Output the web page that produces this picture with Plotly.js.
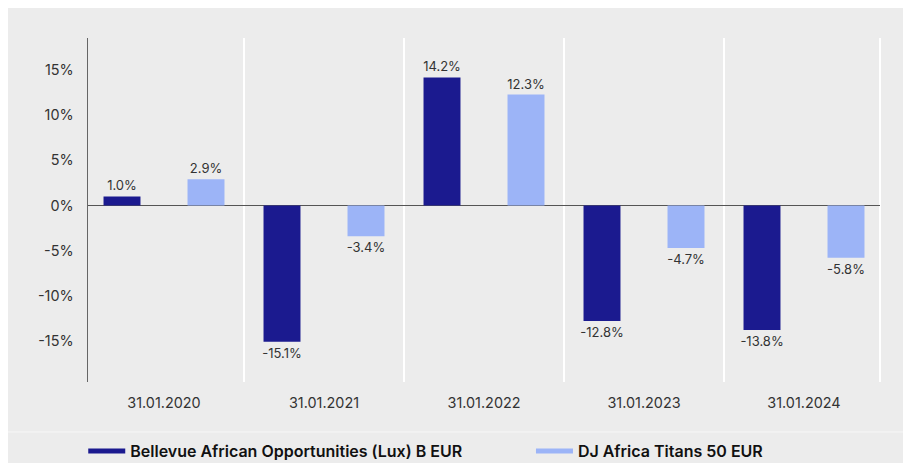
<!DOCTYPE html>
<html>
<head>
<meta charset="utf-8">
<script src="https://cdn.plot.ly/plotly-3.0.1.min.js"></script>
<style>html,body{margin:0;padding:0;background:#fff;}#chart{width:903px;height:463px;}</style>
</head>
<body>
<div id="chart"></div>
<script>
const categories = ['31.01.2020', '31.01.2021', '31.01.2022', '31.01.2023', '31.01.2024'];
const fundName = 'Bellevue African Opportunities (Lux) B EUR';
const benchName = 'DJ Africa Titans 50 EUR';
const fundValues = [1.0, -15.1, 14.2, -12.8, -13.8];
const benchValues = [2.9, -3.4, 12.3, -4.7, -5.8];
const yTickVals = [-15, -10, -5, 0, 5, 10, 15];
const yTickText = ['-15%', '-10%', '-5%', '0%', '5%', '10%', '15%'];

const darkBlue = '#1b1a8f';
const lightBlue = '#9cb4f7';
const fontFam = 'Inter, "Noto Sans", sans-serif';

const fmt = v => v.toFixed(1) + '%';

const traces = [
  {
    type: 'bar', x: categories, y: fundValues, name: fundName,
    marker: {color: darkBlue}, width: 0.231, offset: -0.378,
    text: fundValues.map(fmt), textposition: 'outside', constraintext: 'none',
    textfont: {family: fontFam, size: 13, color: '#333'},
    cliponaxis: false, showlegend: false, hoverinfo: 'skip'
  },
  {
    type: 'bar', x: categories, y: benchValues, name: benchName,
    marker: {color: lightBlue}, width: 0.231, offset: 0.147,
    text: benchValues.map(fmt), textposition: 'outside', constraintext: 'none',
    textfont: {family: fontFam, size: 13, color: '#333'},
    cliponaxis: false, showlegend: false, hoverinfo: 'skip'
  },
  {
    type: 'scatter', mode: 'lines', x: [categories[0]], y: [null], name: fundName,
    line: {color: darkBlue, width: 5}, showlegend: true, legend: 'legend', hoverinfo: 'skip'
  },
  {
    type: 'scatter', mode: 'lines', x: [categories[0]], y: [null], name: benchName,
    line: {color: lightBlue, width: 5}, showlegend: true, legend: 'legend2', hoverinfo: 'skip'
  }
];

const legendBase = {
  orientation: 'h', xanchor: 'left', y: -0.2006, yanchor: 'middle',
  bgcolor: 'rgba(0,0,0,0)', itemwidth: 37,
  font: {family: fontFam, size: 16, color: '#111', weight: 600}
};

const layout = {
  width: 903, height: 463,
  margin: {l: 88, r: 23, t: 38, b: 81, autoexpand: false},
  paper_bgcolor: '#ffffff',
  plot_bgcolor: '#ececec',
  barmode: 'overlay',
  font: {family: fontFam, color: '#333'},
  xaxis: {
    type: 'category', tickson: 'boundaries', showgrid: true, gridcolor: '#ffffff', gridwidth: 2,
    ticks: '', showline: false, zeroline: false,
    tickfont: {family: fontFam, size: 14.4, color: '#333'},
    ticklabelstandoff: 11, range: [-0.475, 4.475], fixedrange: true
  },
  yaxis: {
    range: [-19.57, 18.57], tickvals: yTickVals, ticktext: yTickText,
    showgrid: false, zeroline: true, zerolinecolor: '#555', zerolinewidth: 1.5,
    showline: true, linecolor: '#666', linewidth: 1.5, ticks: '',
    tickfont: {family: fontFam, size: 14.4, color: '#333'},
    ticklabelstandoff: 10, fixedrange: true
  },
  showlegend: true,
  legend: Object.assign({}, legendBase, {x: -0.006}),
  legend2: Object.assign({}, legendBase, {x: 0.5593}),
  shapes: [
    {type: 'rect', xref: 'paper', yref: 'paper', x0: -0.101, x1: 1.1, y0: -0.3, y1: 1.087,
     fillcolor: '#ececec', line: {width: 0}, layer: 'below'},
    {type: 'line', xref: 'paper', yref: 'paper', x0: -0.101, x1: 1.1, y0: -0.1453, y1: -0.1453,
     line: {color: '#f7f7f7', width: 1}, layer: 'below'},
    {type: 'line', xref: 'paper', yref: 'paper', x0: 1, x1: 1, y0: 0, y1: 1,
     line: {color: '#ffffff', width: 2}, layer: 'below'}
  ]
};

Plotly.newPlot('chart', traces, layout, {displayModeBar: false, staticPlot: true});
</script>
</body>
</html>
